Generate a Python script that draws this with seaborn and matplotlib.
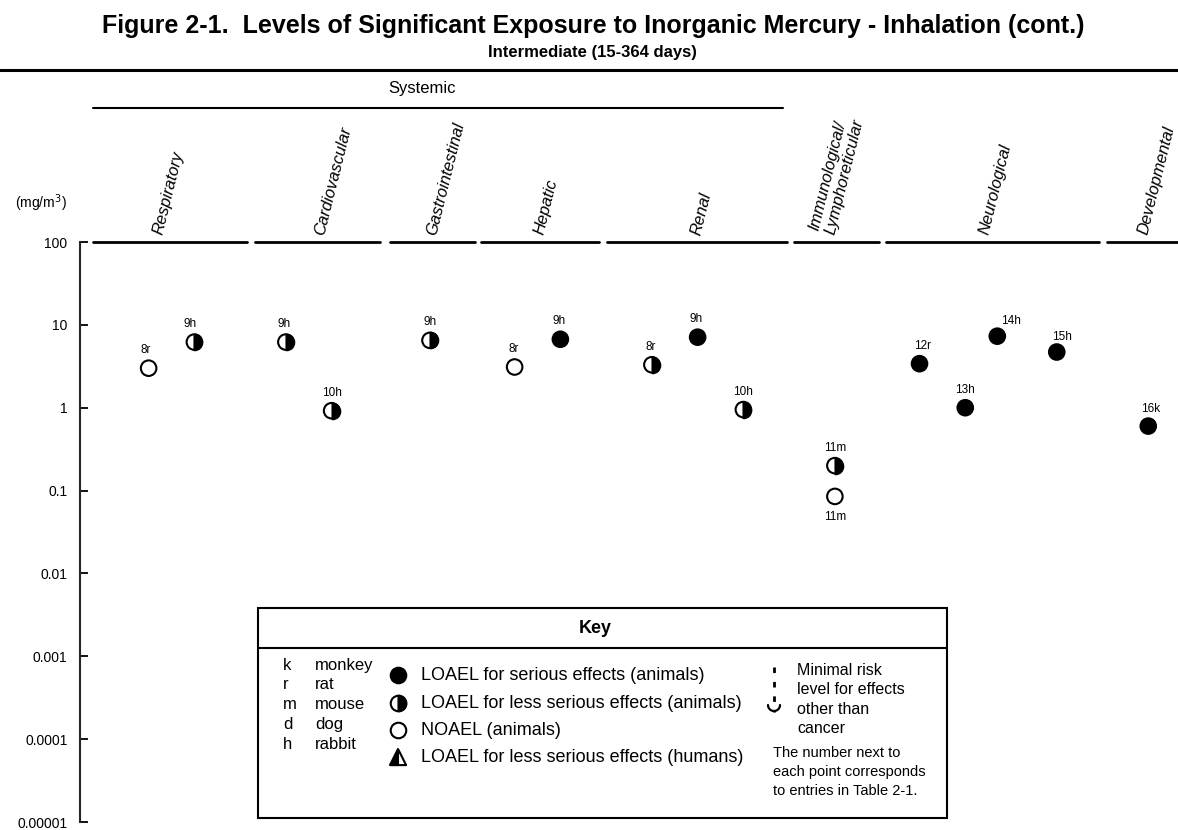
import numpy as np
import pandas as pd
import matplotlib
matplotlib.use("Agg")
import matplotlib.pyplot as plt
import seaborn as sns
from matplotlib.lines import Line2D
from matplotlib.markers import MarkerStyle
from matplotlib.patches import Rectangle

# --- data ---
categories = ["Respiratory", "Cardiovascular", "Gastrointestinal", "Hepatic", "Renal",
              "Immunological/\nLymphoreticular", "Neurological", "Developmental"]
point_category = ["Respiratory", "Respiratory", "Cardiovascular", "Cardiovascular",
                  "Gastrointestinal", "Hepatic", "Hepatic", "Renal", "Renal", "Renal",
                  "Immunological/\nLymphoreticular", "Immunological/\nLymphoreticular",
                  "Neurological", "Neurological", "Neurological", "Neurological",
                  "Developmental"]
point_labels = ["8r", "9h", "9h", "10h", "9h", "8r", "9h", "8r", "9h", "10h",
                "11m", "11m", "12r", "13h", "14h", "15h", "16k"]
dose = [3.0, 6.2, 6.2, 0.92, 6.5, 3.1, 6.7, 3.3, 7.1, 0.95,
        0.2, 0.085, 3.4, 1.0, 7.3, 4.7, 0.6]
effect = ["NOAEL", "less", "less", "less", "less", "NOAEL", "serious", "less", "serious",
          "less", "less", "NOAEL", "serious", "serious", "serious", "serious", "serious"]
slot = [1, 2, 4, 5, 7.15, 9, 10, 12, 13, 14, 16, 16, 17.85, 18.85, 19.55, 20.85, 22.85]
ytick_vals = [1e-5, 1e-4, 1e-3, 1e-2, 1e-1, 1, 10, 100]
ytick_labels = ["0.00001", "0.0001", "0.001", "0.01", "0.1", "1", "10", "100"]

species = [("k", "monkey"), ("r", "rat"), ("m", "mouse"), ("d", "dog"), ("h", "rabbit")]
key_rows = ["LOAEL for serious effects (animals)", "LOAEL for less serious effects (animals)",
            "NOAEL (animals)", "LOAEL for less serious effects (humans)"]
mrl_lines = ["Minimal risk", "level for effects", "other than", "cancer"]
note_lines = ["The number next to", "each point corresponds", "to entries in Table 2-1."]

df = pd.DataFrame({"category": point_category, "label": point_labels, "dose": dose,
                   "effect": effect, "slot": slot})

# --- layout (pixels of the 1178x830 canvas) ---
W, H = 1178, 830
def fx(px): return px / W
def fy(py): return 1 - py / H

seg_span = [(-0.22, 3.15), (3.33, 6.06), (6.28, 8.13), (8.27, 10.84), (11.02, 14.95),
            (15.1, 16.96), (17.12, 21.77), (21.95, 23.6)]
name_at = [1.37, 4.89, 7.34, 9.7, 13.13, 16.05, 19.43, 22.9]
label_dx = [-2, -3, -1, 0, 0, -1, -1, -1, -1, 0, 0, 0, 2, 0, 10, 4, 2]
label_dy = [13, 13, 13, 13, 13, 13, 13, 13, 13, 13, 13, -15, 13, 13, 11, 11, 12]

sns.set_style("ticks")
plt.rcParams["font.family"] = ["Liberation Sans", "DejaVu Sans"]
plt.rcParams["text.color"] = "black"
plt.rcParams["ytick.color"] = "black"

fig = plt.figure(figsize=(11.78, 8.30), dpi=100)
ax = fig.add_axes([fx(80), fy(822), fx(1178) - fx(80), (822 - 242) / H])

pal = {"serious": "black", "less": "white", "NOAEL": "white"}
sns.scatterplot(data=df, x="slot", y="dose", hue="effect", palette=pal, s=125,
                edgecolor="black", linewidth=1.5, legend=False, ax=ax, zorder=3)
sns.scatterplot(data=df[df["effect"] == "less"], x="slot", y="dose",
                marker=MarkerStyle("o", fillstyle="right"), color="black", s=125,
                edgecolor="black", linewidth=1.5, legend=False, ax=ax, zorder=4)

for (x, y, lab, dx, dy) in zip(df["slot"], df["dose"], df["label"], label_dx, label_dy):
    ax.annotate(lab, (x, y), xytext=(dx, dy), textcoords="offset points",
                ha="center", va="center", fontsize=8.5)

ax.set_yscale("log")
ax.set_ylim(1e-5, 100)
ax.set_xlim(-0.5, 23.5)
ax.set_yticks(ytick_vals)
ax.set_yticklabels(ytick_labels, fontsize=10)
ax.yaxis.set_minor_locator(matplotlib.ticker.NullLocator())
ax.tick_params(axis="y", direction="in", length=6, width=1.3, pad=9)
ax.set_xticks([])
ax.set_xlabel("")
ax.set_ylabel("")
for s in ["top", "right", "bottom"]:
    ax.spines[s].set_visible(False)
ax.spines["left"].set_linewidth(1.5)

# category header lines and rotated names
for (x0, x1), nx, name in zip(seg_span, name_at, categories):
    ax.plot([x0, x1], [100, 100], color="black", lw=2, clip_on=False)
    ax.annotate(name, (nx, 100), xytext=(0, 4), textcoords="offset points",
                rotation=76, rotation_mode="anchor", ha="left", va="bottom",
                fontsize=12, style="italic", linespacing=1.15)

# titles and top rules
fig.text(fx(593), fy(33), "Figure 2-1.  Levels of Significant Exposure to Inorganic Mercury - Inhalation (cont.)",
         ha="center", va="baseline", fontsize=18, fontweight="bold")
fig.text(fx(592), fy(52), "Intermediate (15-364 days)", ha="center", va="center",
         fontsize=12, fontweight="bold")
fig.add_artist(Line2D([0, 1], [fy(70), fy(70)], color="black", lw=2.2, transform=fig.transFigure))
fig.add_artist(Line2D([fx(93), fx(783)], [fy(108), fy(108)], color="black", lw=1.5,
                      transform=fig.transFigure))
fig.text(fx(422), fy(88), "Systemic", ha="center", va="center", fontsize=12)
fig.text(fx(41), fy(203), "(mg/m$^3$)", ha="center", va="center", fontsize=10)

# key box
kax = fig.add_axes([fx(258), fy(818), fx(947) - fx(258), (818 - 608) / H])
kax.set_xlim(0, 689)
kax.set_ylim(210, 0)
kax.axis("off")
kax.add_patch(Rectangle((0, 0), 689, 210, fill=False, edgecolor="black", lw=1.5, clip_on=False))
kax.plot([0, 689], [40, 40], color="black", lw=1.5)
kax.text(337, 20, "Key", ha="center", va="center", fontsize=13, fontweight="bold")

for i, (code, name) in enumerate(species):
    yy = 57 + i * 19.8
    kax.text(25, yy, code, va="center", fontsize=12)
    kax.text(57, yy, name, va="center", fontsize=12)

row_y = [67, 95, 122, 149]
for yy, txt in zip(row_y, key_rows):
    kax.text(163, yy, txt, va="center", fontsize=13)
kax.scatter([140], [row_y[0]], s=125, color="black", edgecolor="black", lw=1.5)
kax.scatter([140], [row_y[1]], s=125, color="white", edgecolor="black", lw=1.5)
kax.scatter([140], [row_y[1]], s=125, marker=MarkerStyle("o", fillstyle="right"),
            color="black", edgecolor="black", lw=1.5)
kax.scatter([140], [row_y[2]], s=125, color="white", edgecolor="black", lw=1.5)
kax.scatter([140], [row_y[3]], s=120, marker="^", color="white", edgecolor="black", lw=1.5)
kax.scatter([140], [row_y[3]], s=120, marker=MarkerStyle("^", fillstyle="left"),
            color="black", edgecolor="black", lw=1.5)

# minimal risk level symbol
kax.plot([516, 516], [59, 104], color="black", lw=2, ls=(0, (2, 3.2)))
t = np.linspace(0, np.pi, 30)
kax.plot(516 + 6 * np.cos(t), 97 + 6 * np.sin(t), color="black", lw=1.6)
for i, txt in enumerate(mrl_lines):
    kax.text(539, 62 + i * 19.5, txt, va="center", fontsize=11.5)
for i, txt in enumerate(note_lines):
    kax.text(515, 145 + i * 19, txt, va="center", fontsize=10.5)

fig.savefig("out.png", dpi=100)
